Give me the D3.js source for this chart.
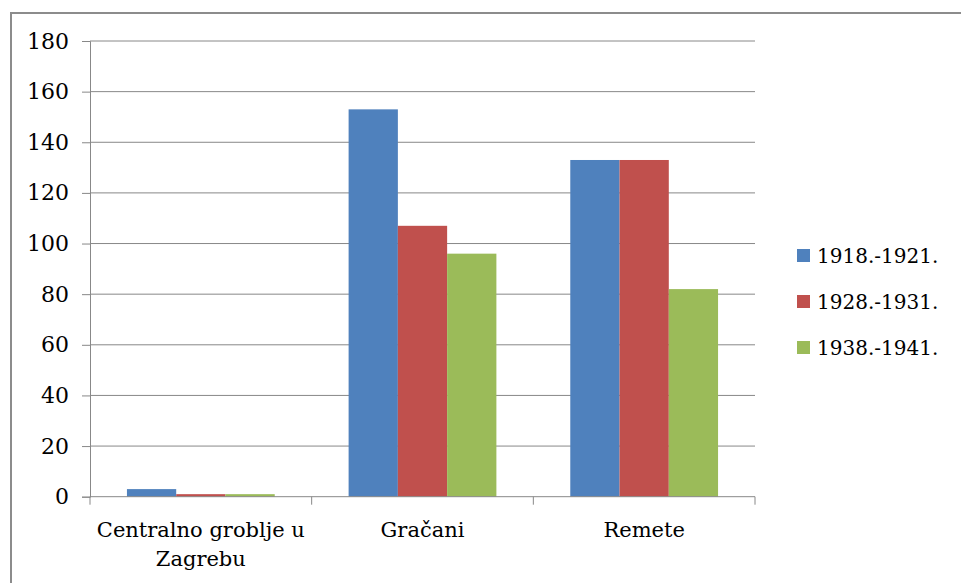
<!DOCTYPE html>
<html>
<head>
<meta charset="utf-8">
<script src="https://d3js.org/d3.v7.min.js"></script>
<style>
  body { margin: 0; background: #fff; }
</style>
</head>
<body>
<div id="chart"></div>
<script>
// data
var categories = ["Centralno groblje u Zagrebu", "Gračani", "Remete"];
var categoryLines = [["Centralno groblje u", "Zagrebu"], ["Gračani"], ["Remete"]];
var seriesNames = ["1918.-1921.", "1928.-1931.", "1938.-1941."];
var series1918 = [3, 153, 133];
var series1928 = [1, 107, 133];
var series1938 = [1, 96, 82];
var yTicks = [0, 20, 40, 60, 80, 100, 120, 140, 160, 180];
var colors = ["#4f81bd", "#c0504d", "#9bbb59"];

var seriesValues = [series1918, series1928, series1938];
var FONT = "'DejaVu Serif', serif";

var W = 961, H = 583;
var plot = { left: 90, right: 755, top: 41, bottom: 496.7 };

var svg = d3.select("#chart").append("svg")
    .attr("width", W).attr("height", H)
    .attr("font-family", FONT);

// outer frame
svg.append("path")
    .attr("d", "M11,583 V13 H961")
    .attr("fill", "none")
    .attr("stroke", "#8c8c8c")
    .attr("stroke-width", 2);

var x0 = d3.scaleBand()
    .domain(categories)
    .range([plot.left, plot.right]);

// Excel gap width 150%: bar = band / 4.5
var x1 = d3.scaleBand()
    .domain(seriesNames)
    .range([0, x0.bandwidth()])
    .paddingInner(0)
    .paddingOuter(0.75);

var y = d3.scaleLinear()
    .domain([0, 180])
    .range([plot.bottom, plot.top]);

// gridlines
svg.append("g")
    .selectAll("line")
    .data(yTicks.filter(function (d) { return d > 0; }))
    .enter().append("line")
    .attr("x1", plot.left).attr("x2", plot.right)
    .attr("y1", function (d) { return y(d); })
    .attr("y2", function (d) { return y(d); })
    .attr("stroke", "#888")
    .attr("stroke-width", 1);

// y axis
var yAxis = svg.append("g")
    .attr("transform", "translate(" + plot.left + ",0)")
    .call(d3.axisLeft(y).tickValues(yTicks).tickSize(8).tickPadding(13));
yAxis.attr("font-family", FONT);
yAxis.select(".domain").attr("stroke", "#888");
yAxis.selectAll(".tick line").attr("stroke", "#888");
yAxis.selectAll("text")
    .style("font-family", FONT)
    .style("font-size", "22px")
    .attr("fill", "#000");

// bars
var groups = svg.append("g")
    .selectAll("g")
    .data(seriesValues)
    .enter().append("g")
    .attr("fill", function (d, i) { return colors[i]; });

groups.selectAll("rect")
    .data(function (vals, si) {
        return vals.map(function (v, ci) { return { s: seriesNames[si], c: categories[ci], v: v }; });
    })
    .enter().append("rect")
    .attr("x", function (d) { return x0(d.c) + x1(d.s); })
    .attr("width", x1.bandwidth())
    .attr("y", function (d) { return y(d.v); })
    .attr("height", function (d) { return y(0) - y(d.v); });

// x axis
var xAxis = svg.append("g")
    .attr("transform", "translate(0," + plot.bottom + ")");
xAxis.append("line")
    .attr("x1", plot.left).attr("x2", plot.right)
    .attr("stroke", "#888");
var bounds = categories.map(function (c) { return x0(c); }).concat([plot.right]);
xAxis.selectAll(".bt")
    .data(bounds)
    .enter().append("line")
    .attr("class", "bt")
    .attr("x1", function (d) { return d; }).attr("x2", function (d) { return d; })
    .attr("y1", 0).attr("y2", 8)
    .attr("stroke", "#888");

var labels = xAxis.selectAll(".xl")
    .data(categories)
    .enter().append("text")
    .attr("class", "xl")
    .attr("text-anchor", "middle")
    .style("font-family", FONT)
    .style("font-size", "21px")
    .attr("transform", function (d) { return "translate(" + (x0(d) + x0.bandwidth() / 2) + ",0)"; });
labels.selectAll("tspan")
    .data(function (d, i) { return categoryLines[i]; })
    .enter().append("tspan")
    .attr("x", 0)
    .attr("y", function (d, i) { return 40 + i * 29; })
    .text(function (d) { return d; });

// legend
var legendY = d3.scalePoint().domain(seriesNames).range([255, 347]);
var legend = svg.append("g")
    .selectAll("g")
    .data(seriesNames)
    .enter().append("g")
    .attr("transform", function (d) { return "translate(797," + legendY(d) + ")"; });
legend.append("rect")
    .attr("x", 0).attr("y", -6)
    .attr("width", 13).attr("height", 13)
    .attr("fill", function (d, i) { return colors[i]; });
legend.append("text")
    .attr("x", 20).attr("y", 8)
    .style("font-family", FONT)
    .style("font-size", "20px")
    .text(function (d) { return d; });
</script>
</body>
</html>
